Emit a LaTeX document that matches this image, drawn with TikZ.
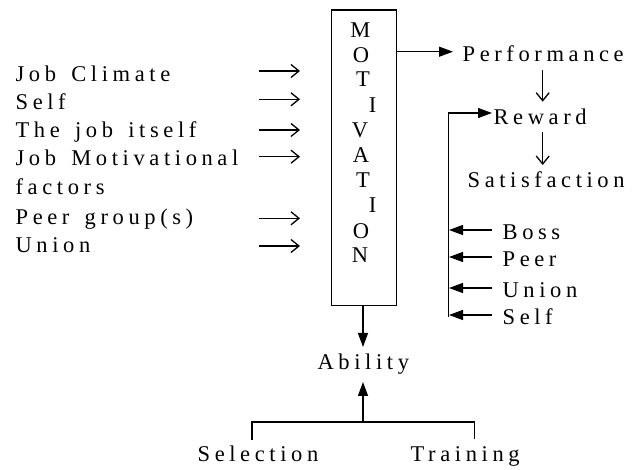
\documentclass[tikz,border=0pt]{standalone}
\usepackage{fontspec}
\setmainfont{Liberation Serif}
\newfontfamily\spaced[LetterSpace=20.5]{Liberation Serif}
\usetikzlibrary{arrows.meta}
% a little extra room between words of the letter-spaced labels
\newcommand\wsp{\hspace{5pt}}

\tikzset{
  lbl/.style={font=\fontsize{22.5}{27}\selectfont\spaced, inner sep=0pt, anchor=base west},
  lt/.style={font=\fontsize{22.5}{27}\selectfont, inner sep=0pt, anchor=base},
  openarr/.style={-{Straight Barb[length=8pt,width=13pt]}},
  filarr/.style={-{Triangle[length=14pt,width=10pt]}},
}

\begin{document}
\begin{tikzpicture}[x=1pt,y=-1pt,line width=1.3pt]
\useasboundingbox (0,0) rectangle (633,470);

% influences on motivation
\node[lbl] (jc) at (15,81.7) {Job \wsp Climate};
\node[lbl] (sf) at (15,110) {Self};
\node[lbl] (tj) at (15,137.7) {The \wsp job \wsp itself};
\node[lbl] (jm) at (15,166) {Job \wsp Motivational};
\node[lbl] (fa) at (15,195) {factors};
\node[lbl] (pg) at (15,224.5) {Peer \wsp group(s)};
\node[lbl] (un) at (15,253) {Union};

\foreach \n/\y in {a/71, b/99.3, c/130, d/156.7, e/218.3, f/246}{
  \coordinate (s\n) at (259,\y);
  \coordinate (t\n) at (300,\y);
  \draw[openarr] (s\n) -- (t\n);
}

% the motivation box
\node[draw, minimum width=65pt, minimum height=295.7pt, inner sep=0pt, anchor=north west] (mot) at (330.5,9.3) {};
\foreach \ch/\x/\y in {M/360.5/37.7, O/361/63, T/363/87, I/372.5/113, V/360/138, A/361/163, T/363/188, I/372.5/213, O/361/239, N/360/263}{
  \node[lt] at (\x,\y) {\ch};
}

% performance, reward, satisfaction
\node[lbl] (perf) at (462,62) {Performance};
\node[lbl] (rew) at (493,125) {Reward};
\node[lbl] (sat) at (467,188) {Satisfaction};

\coordinate (m1) at (395.5,51.7);
\coordinate (p1) at (453,51.7);
\draw[filarr] (m1) -- (p1);

\coordinate (pr1) at (542.7,70);
\coordinate (pr2) at (542.7,101.7);
\draw[openarr] (pr1) -- (pr2);
\coordinate (rs1) at (542.7,131.7);
\coordinate (rs2) at (542.7,165);
\draw[openarr] (rs1) -- (rs2);

% sources of reward
\node[lbl] (boss) at (502,240) {Boss};
\node[lbl] (peer) at (502,267) {Peer};
\node[lbl] (uni) at (502,298) {Union};
\node[lbl] (slf) at (502,325) {Self};

\coordinate (fb0) at (448.5,317);
\coordinate (fb1) at (448.5,113);
\coordinate (fb2) at (492,113);
\draw[filarr] (fb0) -- (fb1) -- (fb2);

\foreach \n/\y in {a/230, b/257, c/288, d/315}{
  \coordinate (r\n) at (492,\y);
  \coordinate (l\n) at (449,\y);
  \draw[filarr] (r\n) -- (l\n);
}

% ability
\node[lbl] (abl) at (317,370) {Ability};
\coordinate (mb) at (363,305);
\coordinate (ab1) at (363,347);
\draw[filarr] (mb) -- (ab1);

\node[lbl] (sel) at (197,462) {Selection};
\node[lbl] (trn) at (410,462) {Training};

\coordinate (br) at (363,422);
\coordinate (ab2) at (363,382);
\coordinate (bl) at (252,422);
\coordinate (bll) at (252,440);
\coordinate (brr) at (474.5,422);
\coordinate (brd) at (474.5,439.5);
\draw[filarr] (br) -- (ab2);
\draw (bll) -- (bl) -- (brr) -- (brd);
\end{tikzpicture}
\end{document}
